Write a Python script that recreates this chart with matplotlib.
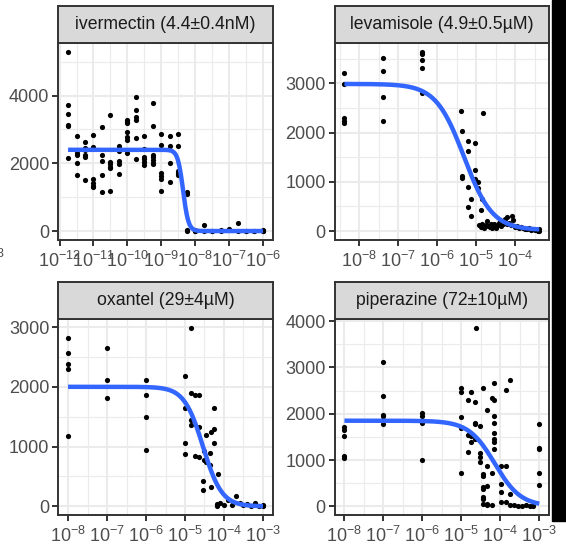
import numpy as np
import matplotlib
matplotlib.use("Agg")
import matplotlib.pyplot as plt
from matplotlib.patches import Rectangle
from matplotlib.ticker import FixedLocator, FuncFormatter

plt.rcParams['font.family'] = ['Liberation Sans', 'DejaVu Sans']
plt.rcParams['mathtext.fontset'] = 'custom'
plt.rcParams['mathtext.rm'] = 'Liberation Sans'
plt.rcParams['mathtext.it'] = 'Liberation Sans:italic'
plt.rcParams['mathtext.bf'] = 'Liberation Sans:bold'
plt.rcParams['mathtext.default'] = 'regular'

# ── data: log10(concentration, M) and response ──
iver_cols = [-11.75, -11.5, -11.25, -11.0, -10.75, -10.5, -10.25, -10.0, -9.75, -9.5,
             -9.25, -9.0, -8.75, -8.5, -8.25, -8.0, -7.75, -7.5, -7.25, -7.0,
             -6.75, -6.5, -6.25, -6.0]
iver_vals = [[5290, 3720, 3460, 3130, 3100, 2170],
             [2800, 2300, 2250, 2010, 1660],
             [2640, 2450, 2400, 2260, 2200, 1510],
             [2850, 2490, 1550, 1410, 1340, 1290],
             [3080, 2250, 2080, 1660, 1160],
             [3430, 2040, 1980, 1900, 1850, 1190],
             [2520, 2440, 2360, 2070, 1980, 1690],
             [3280, 3230, 3180, 2940, 2790, 2690, 2300],
             [3970, 3590, 3360, 3280, 2760, 2120],
             [2800, 2420, 2200, 2120, 2050, 1940],
             [3790, 3110, 2250, 2180, 2100, 2020, 1980],
             [2880, 2540, 1700, 1620, 1540, 1190],
             [2800, 2500, 2020, 1460],
             [2880, 2520, 1760, 1700, 1660],
             [1160, 1100, 30, 0],
             [40, 0, 10],
             [180, 0],
             [0, 10],
             [0, 20],
             [70, 20],
             [250, 0],
             [0, 10],
             [0, 5],
             [30, 0, 10]]

lev_logc = [-8.38, -8.38, -8.38, -8.38, -8.38,
            -7.38, -7.38, -7.38, -7.38,
            -6.38, -6.38, -6.38, -6.38, -6.38,
            -5.39, -5.37, -5.37, -5.37, -5.22, -5.22, -5.22, -5.22, -5.13, -5.13,
            -5.02, -5.02, -5.02, -5.02, -4.95, -4.95, -4.88, -4.86, -4.82,
            -4.92, -4.88, -4.85, -4.8, -4.75, -4.72, -4.7, -4.65, -4.62, -4.6,
            -4.55, -4.52, -4.5, -4.45, -4.42, -4.4, -4.35, -4.32, -4.3, -4.25,
            -4.22, -4.2, -4.15, -4.1, -4.07, -4.05, -4.0, -3.95, -3.9, -3.85,
            -3.8, -3.75, -3.7, -3.65, -3.6, -3.55, -3.5, -3.45, -3.4, -3.38, -3.38]
lev_resp = [3220, 2990, 2290, 2240, 2200,
            3510, 3260, 2720, 2240,
            3640, 3590, 3470, 3310, 2800,
            2430, 2040, 1110, 1070, 1830, 1630, 900, 480, 660, 300,
            1790, 1240, 1060, 1000, 880, 1000, 420, 660, 2400,
            120, 90, 150, 60, 130, 200, 100, 80, 150, 60,
            150, 90, 60, 120, 170, 180, 100, 140, 200, 240,
            150, 280, 160, 120, 300, 220, 90, 110, 60, 80,
            70, 50, 40, 60, 30, 40, 20, 30, 10, 40, 0]

oxa_logc = [-8, -8, -8, -8, -8,
            -7, -7, -7,
            -6, -6, -6, -6,
            -4.84, -5.0, -4.85, -4.75, -4.64, -5.0, -4.26,
            -4.85, -4.84, -4.64, -4.26, -4.34, -4.45,
            -5.0, -4.26, -5.0, -4.75, -4.64, -4.52, -4.45, -4.36,
            -4.52, -4.36, -4.16, -4.53, -4.53, -4.34,
            -4.18, -4.18, -4.1, -4.0, -3.9, -3.8, -3.68, -3.6, -3.5, -3.4,
            -3.3, -3.2, -3.1, -3.0, -3.0]
oxa_resp = [2820, 2560, 2390, 2300, 1170,
            2650, 2110, 1820,
            2110, 1870, 1500, 950,
            2990, 2180, 1900, 1870, 1860, 1640, 1650,
            1440, 1360, 1330, 1300, 1250, 1190,
            1060, 1060, 870, 850, 820, 780, 740, 700,
            920, 890, 540, 420, 280, 320,
            40, 0, 60, 20, 100, 30, 170, 50, 20, 40,
            10, 50, 0, 20, 10]

pip_logc = [-8, -8, -8, -8, -8,
            -7, -7, -7, -7, -7, -7,
            -6, -6, -6, -6,
            -5, -5, -5, -5, -5,
            -4.83, -4.83, -4.83, -4.74, -4.74, -4.74,
            -4.66, -4.66, -4.66, -4.66, -4.63,
            -4.53, -4.53, -4.53, -4.53,
            -4.44, -4.44, -4.44, -4.44, -4.44, -4.44, -4.44, -4.44,
            -4.33, -4.33, -4.33, -4.33, -4.33,
            -4.22, -4.22, -4.22,
            -4.16, -4.16, -4.16, -4.16, -4.16, -4.16, -4.16, -4.16,
            -3.97, -3.97, -3.97, -3.97,
            -3.86, -3.86, -3.86,
            -3.76, -3.76, -3.76,
            -3.65, -3.55, -3.45, -3.35, -3.25, -3.15,
            -3, -3, -3, -3, -3]
pip_resp = [1720, 1660, 1520, 1090, 1040,
            3110, 2390, 1980, 1950, 1860, 1770,
            2020, 1960, 1800, 1010,
            2550, 2480, 1930, 1700, 730,
            2300, 1550, 1180, 2480, 1520, 1380,
            2250, 1800, 1770, 1450, 3860,
            1730, 1160, 1060, 950,
            2550, 700, 660, 410, 380, 200, 150, 60,
            2090, 880, 450, 60, 20,
            2340, 730, 20,
            2660, 2300, 1950, 1800, 1590, 1450, 1380, 1230,
            880, 490, 310, 90,
            2520, 880, 90,
            2730, 270, 20,
            20, 10, 0, 20, 10, 0,
            1770, 1270, 1230, 710, 460]

# fitted log-logistic curves: top, bottom, log10 IC50, hill slope
fit_top = [2400, 2990, 2000, 1850]
fit_bottom = [0, 20, 0, 0]
fit_logic50 = [np.log10(4.4e-9), np.log10(4.9e-6), np.log10(29e-6), np.log10(72e-6)]
fit_hill = [5.5, 1.2, 1.8, 1.3]

titles = ['ivermectin (4.4±0.4nM)', 'levamisole (4.9±0.5µM)',
          'oxantel (29±4µM)', 'piperazine (72±10µM)']
y_major = [[0, 2000, 4000], [0, 1000, 2000, 3000], [0, 1000, 2000, 3000], [0, 1000, 2000, 3000, 4000]]
y_minor = [[1000, 3000, 5000], [500, 1500, 2500, 3500], [500, 1500, 2500], [500, 1500, 2500, 3500]]

iver_logc = [c for c, v in zip(iver_cols, iver_vals) for _ in v]
iver_resp = [r for v in iver_vals for r in v]
xs = [iver_logc, lev_logc, oxa_logc, pip_logc]
ys = [iver_resp, lev_resp, oxa_resp, pip_resp]

# ── layout (pixels) ──
W, H = 566, 552
fig = plt.figure(figsize=(W / 100, H / 100), dpi=100)
panel_x = [(58.3, 272.7), (334.7, 549.0), (58.3, 272.7), (334.7, 549.0)]
panel_y = [(43.0, 240.0), (43.0, 240.0), (318.7, 515.3), (318.7, 515.3)]
strip_h = 37.0
border = '#333333'


def sigmoid(logx, i):
    return fit_bottom[i] + (fit_top[i] - fit_bottom[i]) / (1 + 10 ** (fit_hill[i] * (logx - fit_logic50[i])))


# cropped edge of neighbouring figure (behind everything)
fig.patches.append(Rectangle((552 / W, 1 - 521 / H), 1 - 552 / W, 521 / H,
                             transform=fig.transFigure, color='black', zorder=0))

for i in range(4):
    x0, x1 = panel_x[i]
    yt, yb = panel_y[i]
    ax = fig.add_axes([x0 / W, 1 - yb / H, (x1 - x0) / W, (yb - yt) / H])
    lx = np.array(xs[i], dtype=float)
    ry = np.array(ys[i], dtype=float)
    grid_x = np.linspace(lx.min(), lx.max(), 300)
    curve = sigmoid(grid_x, i)

    ax.scatter(lx, ry, s=14, color='black', linewidths=0, zorder=3)
    ax.plot(grid_x, curve, color='#3366FF', lw=3.2, zorder=4, solid_capstyle='butt')

    xr = lx.max() - lx.min()
    ax.set_xlim(lx.min() - 0.05 * xr, lx.max() + 0.05 * xr)
    ylo = min(ry.min(), curve.min())
    yhi = max(ry.max(), curve.max())
    yr = yhi - ylo
    ax.set_ylim(ylo - 0.05 * yr, yhi + 0.05 * yr)

    lo, hi = ax.get_xlim()
    majors = list(range(int(np.ceil(lo)), int(np.floor(hi)) + 1))
    minors = [m + 0.5 for m in range(int(np.floor(lo)), int(np.ceil(hi))) if lo < m + 0.5 < hi]
    ax.xaxis.set_major_locator(FixedLocator(majors))
    ax.xaxis.set_minor_locator(FixedLocator(minors))
    ax.xaxis.set_major_formatter(FuncFormatter(lambda v, p: r'$10^{%d}$' % round(v)))
    ax.yaxis.set_major_locator(FixedLocator(y_major[i]))
    ax.yaxis.set_minor_locator(FixedLocator(y_minor[i]))

    ax.set_axisbelow(True)
    ax.grid(which='major', color='#EBEBEB', lw=1.5)
    ax.grid(which='minor', color='#EBEBEB', lw=0.8)
    ax.tick_params(which='major', length=4.0, width=1.4, color=border,
                   labelcolor='#4D4D4D', labelsize=13, pad=2.5)
    ax.tick_params(axis='x', which='major', pad=3.5)
    ax.tick_params(which='minor', length=0)
    for sp in ax.spines.values():
        sp.set_color(border)
        sp.set_linewidth(1.4)

    st = fig.add_axes([x0 / W, 1 - yt / H, (x1 - x0) / W, strip_h / H])
    st.set_facecolor('#D9D9D9')
    st.set_xticks([])
    st.set_yticks([])
    for sp in st.spines.values():
        sp.set_color(border)
        sp.set_linewidth(1.4)
    st.text(0.5, 0.5, titles[i], ha='center', va='center', fontsize=12.7,
            color='#1A1A1A', transform=st.transAxes)

fig.text(3 / W, 1 - 254 / H, '3', ha='right', va='center', fontsize=9, color='#4D4D4D')

plt.savefig('out.png', dpi=100)
plt.close()
